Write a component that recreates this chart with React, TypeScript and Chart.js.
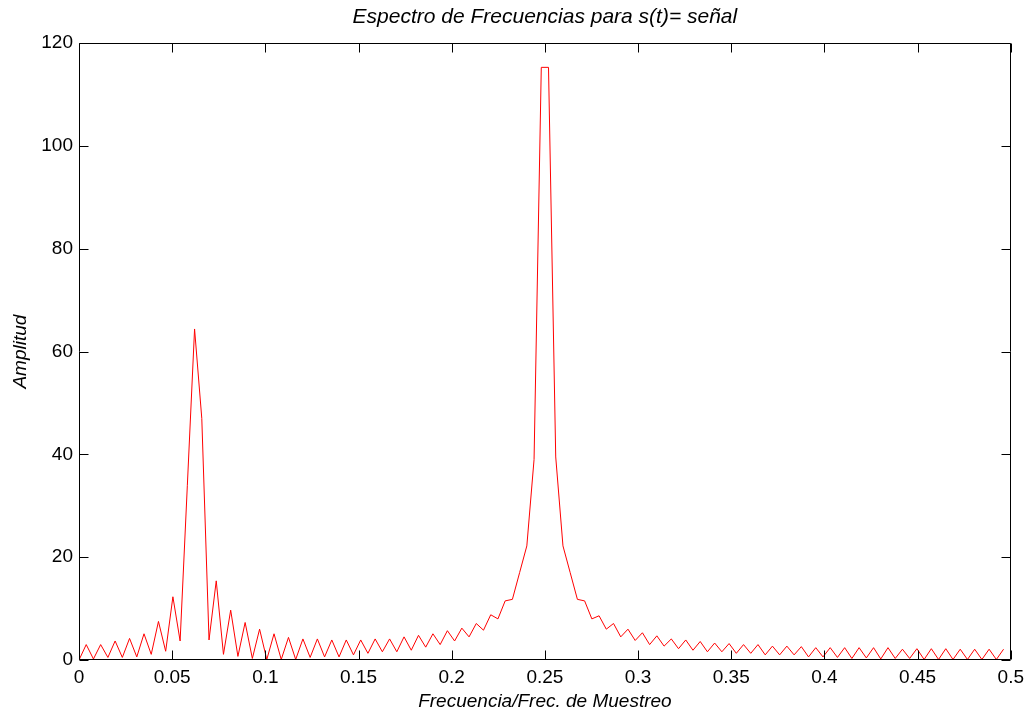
import React, { useEffect, useRef } from "react";
import { Chart, registerables } from "chart.js";

Chart.register(...registerables);

// FFT length: the bins sit at k / FFT_LENGTH (0 .. 128)
const FFT_LENGTH = 258;

// Spectrum amplitude per bin k = 0..128
const amplitudes = [
  0, 3.0, 0.2, 3.0, 0.5, 3.7, 0.5, 4.2, 0.6, 5.1,
  1.1, 7.5, 1.7, 12.3, 3.7, 34, 64.4, 47, 3.9, 15.4,
  1.1, 9.7, 0.7, 7.3, 0.3, 6.0, 0.1, 5.1, 0.1, 4.4,
  0.1, 4.1, 0.5, 4.1, 0.6, 3.9, 0.6, 3.9, 1.0, 3.9,
  1.3, 4.1, 1.6, 4.1, 1.6, 4.5, 1.9, 4.8, 2.5, 5.1,
  3.0, 5.7, 3.7, 6.2, 4.5, 7.1, 5.8, 8.8, 8.0, 11.5,
  11.8, 17, 22.2, 39, 115.3, 115.3, 39.5, 22.2, 17, 11.8,
  11.5, 8.0, 8.6, 6.0, 7.1, 4.5, 6.0, 3.8, 5.3, 3.0,
  4.7, 2.7, 4.1, 2.2, 3.9, 1.9, 3.6, 1.6, 3.3, 1.6,
  3.2, 1.3, 3.0, 1.3, 3.0, 1.0, 2.7, 1.0, 2.7, 1.0,
  2.6, 0.6, 2.4, 0.6, 2.4, 0.5, 2.4, 0.3, 2.4, 0.4,
  2.4, 0.2, 2.4, 0.3, 2.1, 0.3, 2.2, 0.1, 2.2, 0.1,
  2.2, 0.1, 2.1, 0.1, 2.1, 0.1, 2.1, 0.1, 2.1,
];

const xTickValues = [0, 0.05, 0.1, 0.15, 0.2, 0.25, 0.3, 0.35, 0.4, 0.45, 0.5];
const xTickLabels = ["0", "0.05", "0.1", "0.15", "0.2", "0.25", "0.3", "0.35", "0.4", "0.45", "0.5"];
const yTickValues = [0, 20, 40, 60, 80, 100, 120];
const yTickLabels = ["0", "20", "40", "60", "80", "100", "120"];

const TITLE = "Espectro de Frecuencias para s(t)= señal";
const X_LABEL = "Frecuencia/Frec. de Muestreo";
const Y_LABEL = "Amplitud";

const FONT_FAMILY = "'Liberation Sans', Arial, Helvetica, sans-serif";
const FONT_SIZE = 19;
const TITLE_SIZE = 21;
const TICK_LEN = 9;

const boxTicksPlugin = {
  id: "boxTicks",
  afterDraw(chart: any) {
    const { ctx, chartArea } = chart;
    const { left, right, top, bottom } = chartArea;
    const xs = chart.scales.x;
    const ys = chart.scales.y;
    const L = Math.round(left) + 0.5;
    const R = Math.round(right) - 0.5;
    const T = Math.round(top) + 0.5;
    const B = Math.round(bottom) - 0.5;
    ctx.save();
    ctx.strokeStyle = "#000";
    ctx.lineWidth = 1;
    ctx.beginPath();
    ctx.moveTo(L, T);
    ctx.lineTo(R, T);
    ctx.lineTo(R, B);
    ctx.lineTo(L, B);
    ctx.closePath();
    xs.ticks.forEach((t: any) => {
      const px = Math.round(xs.getPixelForValue(t.value)) + 0.5;
      ctx.moveTo(px, B);
      ctx.lineTo(px, B - TICK_LEN);
      ctx.moveTo(px, T);
      ctx.lineTo(px, T + TICK_LEN);
    });
    ys.ticks.forEach((t: any) => {
      const py = Math.round(ys.getPixelForValue(t.value)) + 0.5;
      ctx.moveTo(L, py);
      ctx.lineTo(L + TICK_LEN, py);
      ctx.moveTo(R, py);
      ctx.lineTo(R - TICK_LEN, py);
    });
    ctx.stroke();
    ctx.restore();
  },
};

export default function App() {
  const canvasRef = useRef<HTMLCanvasElement | null>(null);

  useEffect(() => {
    const canvas = canvasRef.current;
    if (!canvas) return;
    const points = amplitudes.map((a, k) => ({ x: k / FFT_LENGTH, y: a }));
    const chart = new Chart(canvas, {
      type: "line",
      data: {
        datasets: [
          {
            data: points,
            borderColor: "#ff0000",
            borderWidth: 1,
            pointRadius: 0,
            tension: 0,
            fill: false,
          },
        ],
      },
      options: {
        animation: false,
        responsive: true,
        maintainAspectRatio: false,
        devicePixelRatio: 1,
        layout: { padding: { left: 0, right: 19, top: 0, bottom: 0 } },
        plugins: {
          legend: { display: false },
          tooltip: { enabled: false },
          title: {
            display: true,
            text: TITLE,
            fullSize: false,
            color: "#000",
            font: { family: FONT_FAMILY, size: TITLE_SIZE, style: "italic", weight: "normal" },
            padding: { top: 5, bottom: 13 },
          },
        },
        scales: {
          x: {
            type: "linear",
            min: 0,
            max: 0.5,
            grid: { display: false, drawTicks: false },
            border: { display: false },
            afterBuildTicks: (scale: any) => {
              scale.ticks = xTickValues.map((v) => ({ value: v }));
            },
            afterFit: (scale: any) => {
              scale.height = 53;
            },
            ticks: {
              autoSkip: false,
              maxRotation: 0,
              padding: 6,
              color: "#000",
              font: { family: FONT_FAMILY, size: FONT_SIZE },
              callback: (_v: any, i: number) => xTickLabels[i],
            },
            title: {
              display: true,
              text: X_LABEL,
              color: "#000",
              font: { family: FONT_FAMILY, size: FONT_SIZE, style: "italic" },
              padding: { top: 0, bottom: 0 },
            },
          },
          y: {
            type: "linear",
            min: 0,
            max: 120,
            grid: { display: false, drawTicks: false },
            border: { display: false },
            afterBuildTicks: (scale: any) => {
              scale.ticks = yTickValues.map((v) => ({ value: v }));
            },
            afterFit: (scale: any) => {
              scale.width = 79;
            },
            ticks: {
              autoSkip: false,
              padding: 6,
              color: "#000",
              font: { family: FONT_FAMILY, size: FONT_SIZE },
              callback: (_v: any, i: number) => yTickLabels[i],
            },
            title: {
              display: true,
              text: Y_LABEL,
              color: "#000",
              font: { family: FONT_FAMILY, size: FONT_SIZE, style: "italic" },
              padding: { top: 9, bottom: 0 },
            },
          },
        },
      },
      plugins: [boxTicksPlugin],
    });
    return () => chart.destroy();
  }, []);

  return (
    <div
      style={{
        position: "fixed",
        left: 0,
        top: 0,
        width: 1030,
        height: 713,
        background: "#fff",
      }}
    >
      <canvas ref={canvasRef} />
    </div>
  );
}
